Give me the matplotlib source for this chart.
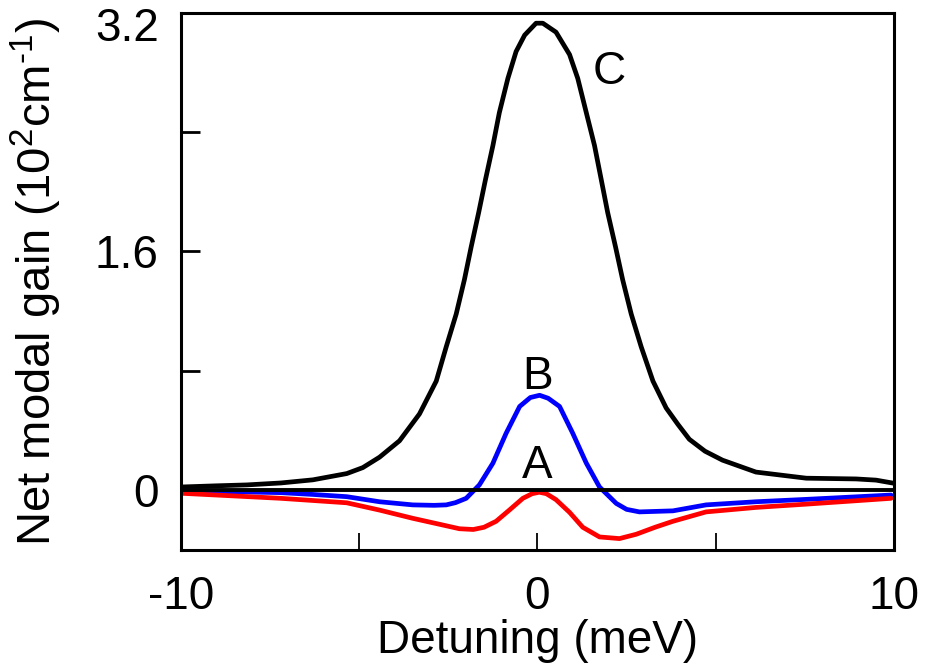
import matplotlib
matplotlib.use("Agg")
import matplotlib.pyplot as plt
from matplotlib.transforms import ScaledTranslation

plt.rcParams['font.family'] = ['Liberation Sans', 'DejaVu Sans']
plt.rcParams['mathtext.fontset'] = 'custom'
plt.rcParams['mathtext.rm'] = 'Liberation Sans'
plt.rcParams['mathtext.default'] = 'regular'

# curve C (black)
c_x = [-10.0, -9.0, -8.15, -7.2, -6.3, -5.35, -4.9, -4.43, -3.87, -3.31, -2.84, -2.56,
       -2.28, -2.05, -1.86, -1.65, -1.46, -1.25, -1.07, -0.83, -0.60, -0.36, -0.04,
       0.15, 0.52, 0.90, 1.13, 1.37, 1.60, 1.79, 1.97, 2.19, 2.39, 2.63, 2.91, 3.24,
       3.61, 3.94, 4.26, 4.7, 5.19, 6.13, 7.54, 8.94, 9.5, 10.0]
c_y = [0.02, 0.028, 0.034, 0.047, 0.068, 0.11, 0.15, 0.22, 0.33, 0.51, 0.73, 0.96,
       1.18, 1.41, 1.63, 1.86, 2.08, 2.31, 2.53, 2.76, 2.94, 3.05, 3.13,
       3.13, 3.07, 2.92, 2.76, 2.53, 2.31, 2.08, 1.86, 1.63, 1.41, 1.18, 0.96, 0.73,
       0.55, 0.44, 0.34, 0.26, 0.20, 0.12, 0.079, 0.074, 0.066, 0.045]

# curve B (blue)
b_x = [-10.0, -8.5, -7.2, -6.3, -5.35, -4.43, -3.5, -2.9, -2.56, -2.3, -2.0, -1.63,
       -1.25, -0.88, -0.5, -0.2, 0.06, 0.3, 0.62, 0.99, 1.37, 1.74, 2.21, 2.5, 2.86,
       3.8, 4.73, 6.13, 7.54, 9.92]
b_y = [-0.005, -0.012, -0.018, -0.03, -0.045, -0.079, -0.10, -0.103, -0.10, -0.085, -0.056, 0.034,
       0.18, 0.38, 0.56, 0.62, 0.635, 0.615, 0.56, 0.38, 0.18, 0.02, -0.09, -0.13, -0.147,
       -0.14, -0.10, -0.079, -0.063, -0.034]

# curve A (red)
a_x = [-10.0, -7.2, -5.35, -4.43, -3.5, -2.75, -2.19, -1.8, -1.5, -1.16, -0.79, -0.41,
       -0.15, 0.05, 0.25, 0.52, 0.90, 1.27, 1.74, 2.3, 2.77, 3.3, 3.8, 4.73, 6.13, 7.54, 9.92]
a_y = [-0.022, -0.056, -0.086, -0.135, -0.19, -0.23, -0.26, -0.265, -0.25, -0.21, -0.135, -0.056,
       -0.025, -0.015, -0.025, -0.065, -0.15, -0.25, -0.315, -0.326, -0.297, -0.25, -0.21, -0.147,
       -0.117, -0.095, -0.056]

x_ticks = [-10, -5, 0, 5, 10]
x_labels = ['-10', '', '0', '', '10']
y_ticks = [0, 0.8, 1.6, 2.4, 3.2]
y_labels = ['0', '', '1.6', '', '3.2']

fig = plt.figure(figsize=(9.38, 6.72), dpi=100)
ax = fig.add_axes([0.193, 0.181, 0.760, 0.800])

lw = 3.4
for xs, ys, col in [(c_x, c_y, 'black'), (b_x, b_y, '#0000ff'), (a_x, a_y, '#ff0000')]:
    ax.plot(xs, ys, color=col, lw=lw, solid_joinstyle='round', solid_capstyle='round')
ax.axhline(0, color='black', lw=2.8, zorder=5)

ax.set_xlim(-10, 10)
ax.set_ylim(-0.405, 3.2)

ax.set_xticks(x_ticks)
ax.set_xticklabels(x_labels)
ax.set_yticks(y_ticks)
ax.set_yticklabels(y_labels)
ax.tick_params(axis='y', direction='in', length=14, width=2.0, pad=16, labelsize=33)
ax.tick_params(axis='x', direction='in', length=12, width=1.3, pad=18, labelsize=33)

# top label sits a little below its tick in the reference
lab = ax.get_yticklabels()[-1]
lab.set_transform(lab.get_transform() + ScaledTranslation(0, -8 / 72, fig.dpi_scale_trans))

for s in ax.spines.values():
    s.set_linewidth(2.2)

ax.set_xlabel('Detuning (meV)', fontsize=33, labelpad=0)
ax.set_ylabel('Net modal gain (10$^2$cm$^{\u20101}$)', fontsize=34, labelpad=22)

ax.text(2.02, 2.80, 'C', fontsize=33, ha='center', va='center')
ax.text(0.0, 0.76, 'B', fontsize=33, ha='center', va='center')
ax.text(0.0, 0.16, 'A', fontsize=33, ha='center', va='center')

fig.savefig('out.png', dpi=100)
